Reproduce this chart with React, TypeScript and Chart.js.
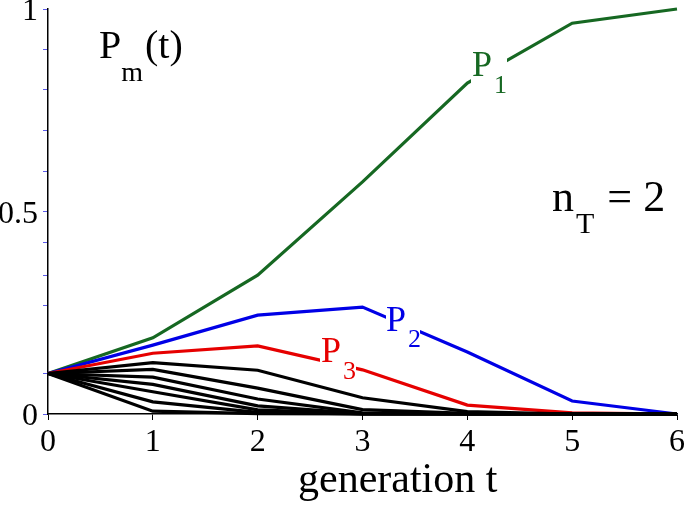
import React, { useEffect, useRef } from "react";
import { Chart, registerables } from "chart.js";

Chart.register(...registerables);

const generations = [0, 1, 2, 3, 4, 5, 6];
const p1 = [0.1, 0.188, 0.343, 0.573, 0.817, 0.965, 1.0];
const p2 = [0.1, 0.17, 0.244, 0.264, 0.153, 0.032, 0.0];
const p3 = [0.1, 0.15, 0.168, 0.109, 0.022, 0.003, 0.0];
const p4 = [0.1, 0.127, 0.108, 0.04, 0.006, 0.0, 0.0];
const p5 = [0.1, 0.11, 0.064, 0.011, 0.0015, 0.0, 0.0];
const p6 = [0.1, 0.091, 0.037, 0.003, 0.0003, 0.0, 0.0];
const p7 = [0.1, 0.073, 0.02, 0.0008, 0.0, 0.0, 0.0];
const p8 = [0.1, 0.055, 0.01, 0.0002, 0.0, 0.0, 0.0];
const p9 = [0.1, 0.03, 0.004, 0.0, 0.0, 0.0, 0.0];
const p10 = [0.1, 0.007, 0.001, 0.0, 0.0, 0.0, 0.0];
const blackSeries = [p4, p5, p6, p7, p8, p9, p10];

const yTickValues = [0, 0.1, 0.267, 0.343, 0.423, 0.5, 0.6, 0.7, 0.8, 0.9, 1];
const yTickLabels: Record<string, string> = { "0": "0", "0.5": "0.5", "1": "1" };

const GREEN = "rgb(22,104,34)";
const BLUE = "rgb(0,0,230)";
const RED = "rgb(230,0,0)";
const FONT = "'Liberation Serif', 'DejaVu Serif', serif";

const toPts = (arr: number[]) => arr.map((v, i) => ({ x: generations[i], y: v }));

function sub(ctx: CanvasRenderingContext2D, main: string, s: string, x: number, y: number, mainSize: number, subSize: number, subDx: number, subDy: number, color: string, rest?: string) {
  ctx.fillStyle = color;
  ctx.font = `${mainSize}px ${FONT}`;
  ctx.textBaseline = "alphabetic";
  ctx.textAlign = "left";
  ctx.fillText(main, x, y);
  const w = ctx.measureText(main).width;
  ctx.font = `${subSize}px ${FONT}`;
  ctx.fillText(s, x + w + subDx, y + subDy);
  const ws = ctx.measureText(s).width;
  if (rest) {
    ctx.font = `${mainSize}px ${FONT}`;
    ctx.fillText(rest, x + w + subDx + ws + 2, y);
  }
}

const annotations = {
  id: "annotations",
  afterDatasetsDraw(chart: any) {
    const ctx = chart.ctx as CanvasRenderingContext2D;
    ctx.save();
    ctx.fillStyle = "white";
    ctx.fillRect(471, 44, 36, 52);
    ctx.fillRect(386, 300, 34, 50);
    ctx.fillRect(320, 334, 36, 48);
    sub(ctx, "P", "1", 472, 76, 36, 26, 2, 17, GREEN);
    sub(ctx, "P", "2", 386, 331, 36, 26, 2, 16, BLUE);
    sub(ctx, "P", "3", 321, 362, 36, 26, 2, 17, RED);
    sub(ctx, "P", "m", 99, 58, 40, 28, 0, 23, "black", "(t)");
    sub(ctx, "n", "T", 552, 211, 44, 30, 2, 22, "black", " = 2");
    ctx.fillStyle = "black";
    ctx.font = `42px ${FONT}`;
    ctx.textAlign = "left";
    ctx.fillText("generation t", 298, 492);
    ctx.restore();
  },
};

export default function App() {
  const ref = useRef<HTMLCanvasElement | null>(null);
  useEffect(() => {
    if (!ref.current) return;
    const datasets: any[] = [];
    blackSeries.forEach((s, i) => {
      datasets.push({ label: `P${i + 4}`, data: toPts(s), borderColor: "black", borderWidth: 3.2 });
    });
    datasets.push({ label: "P3", data: toPts(p3), borderColor: RED, borderWidth: 3.2 });
    datasets.push({ label: "P2", data: toPts(p2), borderColor: BLUE, borderWidth: 3.2 });
    datasets.push({ label: "P1", data: toPts(p1), borderColor: GREEN, borderWidth: 3.2 });
    datasets.forEach((d) => {
      d.pointRadius = 0;
      d.tension = 0;
      d.fill = false;
      d.clip = 4;
      d.borderJoinStyle = "miter";
    });
    const chart = new Chart(ref.current, {
      type: "line",
      data: { datasets },
      options: {
        animation: false,
        responsive: false,
        devicePixelRatio: 1,
        layout: { padding: { top: 9, right: 8, left: 0, bottom: 0 } },
        plugins: { legend: { display: false }, tooltip: { enabled: false }, title: { display: false } },
        scales: {
          x: {
            type: "linear",
            min: 0,
            max: 6,
            ticks: {
              stepSize: 1,
              color: "black",
              font: { family: FONT, size: 32 },
              padding: 3,
              maxRotation: 0,
              callback: (v: any) => String(v),
            },
            grid: { display: true, drawOnChartArea: false, drawTicks: true, tickLength: 6, tickColor: "black", tickWidth: 1 },
            border: { display: true, color: "black", width: 1.5 },
            afterFit: (scale: any) => {
              scale.height = 100;
              scale.paddingLeft = 0;
              scale.paddingRight = 0;
            },
          },
          y: {
            type: "linear",
            min: 0,
            max: 1,
            afterBuildTicks: (scale: any) => {
              scale.ticks = yTickValues.map((v) => ({ value: v }));
            },
            ticks: {
              color: "black",
              font: { family: FONT, size: 32 },
              padding: 5,
              labelOffset: 3,
              autoSkip: false,
              callback: (v: any) => yTickLabels[String(v)] ?? "",
            },
            grid: { display: true, drawOnChartArea: false, drawTicks: true, tickLength: 5, tickColor: "rgb(90,90,235)", tickWidth: 1 },
            border: { display: true, color: "black", width: 1.5 },
            afterFit: (scale: any) => {
              scale.width = 48;
              scale.paddingTop = 0;
              scale.paddingBottom = 0;
            },
          },
        },
      },
      plugins: [annotations],
    });
    return () => chart.destroy();
  }, []);
  return (
    <div style={{ position: "fixed", left: 0, top: 0, width: 685, height: 514, background: "white" }}>
      <canvas ref={ref} width={685} height={514} style={{ display: "block" }} />
    </div>
  );
}
